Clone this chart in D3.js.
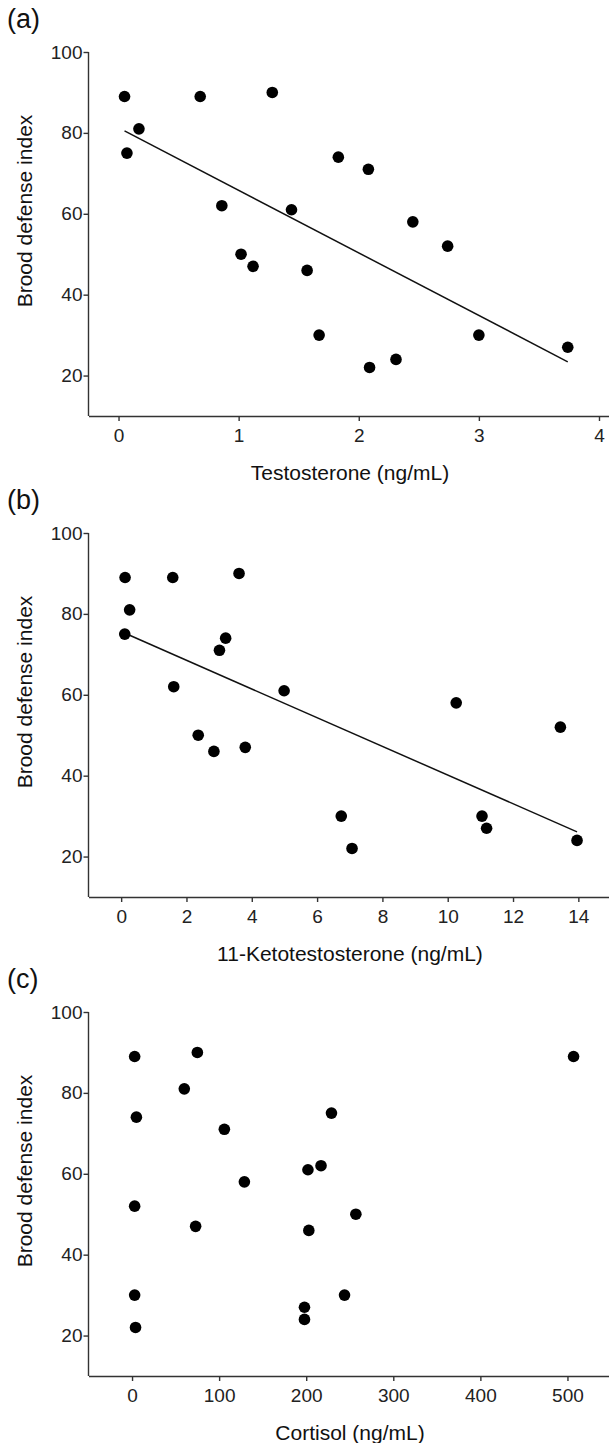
<!DOCTYPE html>
<meta charset="utf-8">

<!-- Load d3.js -->
<script src="https://d3js.org/d3.v7.min.js"></script>

<style>
body { margin: 0; background: #fff; }
svg { display: block; font-family: "Liberation Sans", Arial, Helvetica, sans-serif; }
.tick text { fill: #222; }
</style>

<div id="my_dataviz"></div>

<script>

// (a) testosterone vs brood defense
var testoX = [0.05, 0.68, 1.28, 0.17, 0.07, 1.83, 2.08, 0.86, 1.44, 2.45, 2.74, 1.02, 1.12, 1.57, 1.67, 3.00, 3.74, 2.09, 2.31];
var testoY = [89, 89, 90, 81, 75, 74, 71, 62, 61, 58, 52, 50, 47, 46, 30, 30, 27, 22, 24];
var testoFitX = [0.05, 3.74];
var testoFitY = [80.5, 23.4];
var testoTicks = [0, 1, 2, 3, 4];

// (b) 11-ketotestosterone vs brood defense
var ketoX = [0.12, 1.58, 3.61, 0.26, 0.11, 3.20, 3.01, 1.61, 4.99, 10.26, 13.45, 2.36, 3.80, 2.84, 6.74, 11.05, 11.19, 7.07, 13.96];
var ketoY = [89, 89, 90, 81, 75, 74, 71, 62, 61, 58, 52, 50, 47, 46, 30, 30, 27, 22, 24];
var ketoFitX = [0.12, 13.96];
var ketoFitY = [75.2, 26.1];
var ketoTicks = [0, 2, 4, 6, 8, 10, 12, 14];

// (c) cortisol vs brood defense (no fit line)
var cortX = [3, 75, 507, 60, 5, 229, 106, 202, 217, 129, 3, 257, 73, 203, 3, 244, 198, 198, 4];
var cortY = [89, 90, 89, 81, 74, 75, 71, 61, 62, 58, 52, 50, 47, 46, 30, 30, 27, 24, 22];
var cortTicks = [0, 100, 200, 300, 400, 500];

var yTicks = [20, 40, 60, 80, 100];
var panelLabels = ["(a)", "(b)", "(c)"];
var xTitles = ["Testosterone (ng/mL)", "11-Ketotestosterone (ng/mL)", "Cortisol (ng/mL)"];
var yTitle = "Brood defense index";

// layout
var width = 609,
    height = 1443,
    axisX = 88.5,
    plotH = 364,
    panelTops = [52, 533, 1012];

var panels = [
  {xs: testoX, ys: testoY, fx: testoFitX, fy: testoFitY, dom: [-0.25, 4.1], ticks: testoTicks},
  {xs: ketoX, ys: ketoY, fx: ketoFitX, fy: ketoFitY, dom: [-1, 15], ticks: ketoTicks},
  {xs: cortX, ys: cortY, fx: null, fy: null, dom: [-50, 550], ticks: cortTicks}
];

var svg = d3.select("#my_dataviz")
  .append("svg")
    .attr("width", width)
    .attr("height", height);

panels.forEach(function(p, i) {
  var top = panelTops[i];

  var x = d3.scaleLinear()
    .domain(p.dom)
    .range([axisX, width + 2]);

  var y = d3.scaleLinear()
    .domain([10, 100])
    .range([top + plotH, top]);

  var g = svg.append("g");

  // panel letter
  g.append("text")
    .attr("x", 7)
    .attr("y", top - 24)
    .style("font-size", "27px")
    .style("fill", "#111")
    .text(panelLabels[i]);

  // x axis
  var xa = g.append("g")
    .attr("transform", "translate(0," + (top + plotH) + ")")
    .call(d3.axisBottom(x).tickValues(p.ticks).tickFormat(d3.format("d"))
      .tickSize(5).tickSizeOuter(0).tickPadding(8));
  xa.selectAll("text").style("font-size", "19px");

  // y axis
  var ya = g.append("g")
    .attr("transform", "translate(" + axisX + ",0)")
    .call(d3.axisLeft(y).tickValues(yTicks).tickFormat(d3.format("d"))
      .tickSize(5).tickSizeOuter(0).tickPadding(1));
  ya.selectAll("text").style("font-size", "19px");
  // y axis line only runs from the 100 tick down
  ya.select(".domain").attr("d", "M0," + y(100) + "V" + (top + plotH));

  g.selectAll(".domain, .tick line")
    .attr("stroke", "#333")
    .attr("stroke-width", 1.4);

  // axis titles
  g.append("text")
    .attr("x", 350)
    .attr("y", top + plotH + 64)
    .attr("text-anchor", "middle")
    .style("font-size", "21px")
    .style("fill", "#111")
    .text(xTitles[i]);

  g.append("text")
    .attr("transform", "translate(32," + (top + 159) + ")rotate(-90)")
    .attr("text-anchor", "middle")
    .style("font-size", "21px")
    .style("fill", "#111")
    .text(yTitle);

  // regression line
  if (p.fx) {
    g.append("line")
      .attr("x1", x(p.fx[0]))
      .attr("y1", y(p.fy[0]))
      .attr("x2", x(p.fx[1]))
      .attr("y2", y(p.fy[1]))
      .attr("stroke", "#111")
      .attr("stroke-width", 1.5);
  }

  // points
  g.selectAll("circle")
    .data(p.xs)
    .enter()
    .append("circle")
      .attr("cx", function(d) { return x(d); })
      .attr("cy", function(d, j) { return y(p.ys[j]); })
      .attr("r", 5.8)
      .attr("fill", "#000");
});

</script>
